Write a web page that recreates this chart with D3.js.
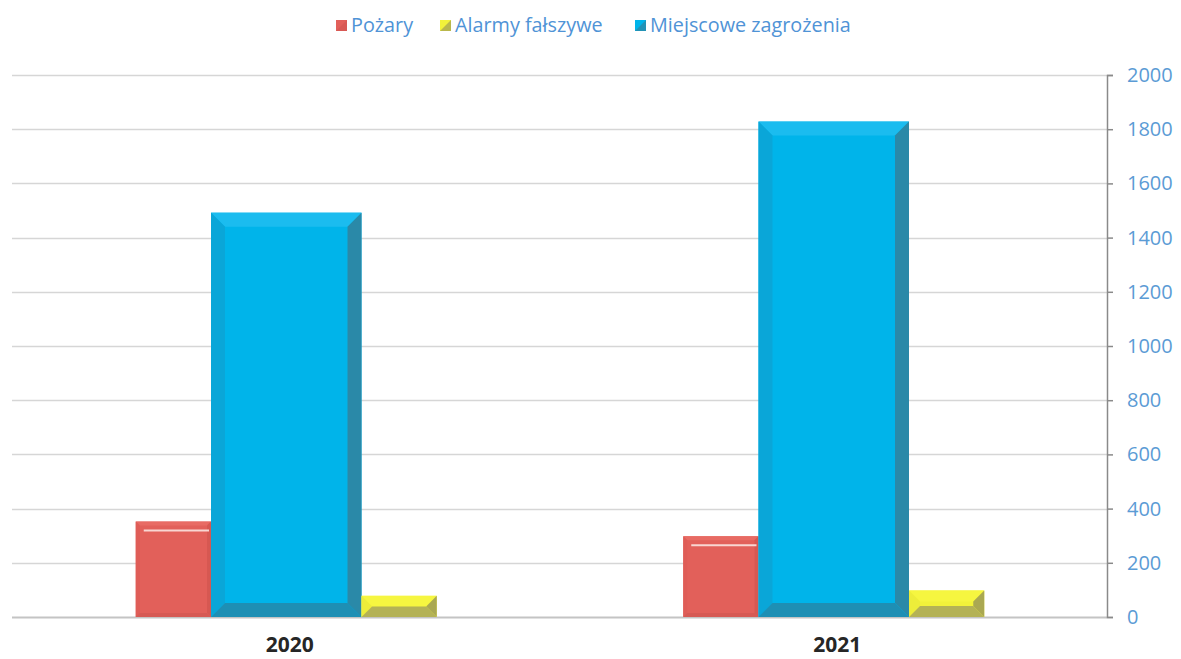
<!DOCTYPE html>
<html>
<head>
<meta charset="utf-8">
<script src="https://cdn.jsdelivr.net/npm/d3@7/dist/d3.min.js"></script>
<style>
  body { margin: 0; background: #fff; }
  svg { display: block; }
</style>
</head>
<body>
<div id="app"></div>
<script>
// dane
const years = ["2020", "2021"];
const seriesNames = ["Pożary", "Miejscowe zagrożenia", "Alarmy fałszywe"];
const pozary = [352, 298];
const miejscowe = [1492, 1828];
const alarmy = [78, 98];
const yTicks = [0, 200, 400, 600, 800, 1000, 1200, 1400, 1600, 1800, 2000];

const width = 1181, height = 659;
const plotLeft = 12, plotRight = 1107, plotTop = 75, plotBottom = 617;

const svg = d3.select("#app").append("svg")
    .attr("width", width)
    .attr("height", height);

const x0 = d3.scaleBand().domain(years).range([plotLeft, plotRight]);
const y = d3.scaleLinear().domain([0, 2000]).range([plotBottom, plotTop]);

// szerokości słupków w grupie: czerwony 1, niebieski 2, żółty 1
const unit = d3.scaleLinear().domain([0, 4]).range([-150, 151]);
const slots = [[0, 1], [1, 3], [3, 4]];

// siatka
svg.append("g")
    .selectAll("line")
    .data(yTicks)
    .join("line")
    .attr("x1", plotLeft)
    .attr("x2", plotRight)
    .attr("y1", d => Math.round(y(d)) + 0.5)
    .attr("y2", d => Math.round(y(d)) + 0.5)
    .attr("stroke", d => d === 0 ? "#c4c4c4" : "#d6d6d6")
    .attr("stroke-width", d => d === 0 ? 2 : 1.5);

// oś po prawej
const axis = svg.append("g")
    .attr("transform", `translate(${plotRight},0)`)
    .call(d3.axisRight(y).tickValues(yTicks).tickSize(6).tickPadding(14).tickFormat(d3.format("d")));
axis.select(".domain").attr("stroke", "#8a8a8a").attr("stroke-width", 1.5);
axis.selectAll(".tick line").attr("stroke", "#8a8a8a").attr("stroke-width", 1.5);
axis.selectAll(".tick text")
    .attr("fill", "#5b9bd5")
    .style("font-family", "'Open Sans', sans-serif")
    .style("font-size", "20px");

// słupek z fazowaniem
function bevelBar(g, x, yTop, w, h, b, c) {
    b = Math.min(b, h / 2, w / 2);
    const x2 = x + w, y2 = yTop + h;
    g.append("rect").attr("x", x).attr("y", yTop).attr("width", w).attr("height", h).attr("fill", c.face);
    g.append("polygon").attr("points", [[x, yTop], [x2, yTop], [x2 - b, yTop + b], [x + b, yTop + b]].join(" ")).attr("fill", c.top);
    g.append("polygon").attr("points", [[x, yTop], [x + b, yTop + b], [x + b, y2 - b], [x, y2]].join(" ")).attr("fill", c.left);
    g.append("polygon").attr("points", [[x2, yTop], [x2, y2], [x2 - b, y2 - b], [x2 - b, yTop + b]].join(" ")).attr("fill", c.right);
    g.append("polygon").attr("points", [[x, y2], [x + b, y2 - b], [x2 - b, y2 - b], [x2, y2]].join(" ")).attr("fill", c.bottom);
}

const styles = [
    { face: "#e2605a", top: "#e86b64", left: "#df5d57", right: "#d65852", bottom: "#d65a54", bevel: 4, hi: true },
    { face: "#00b4ea", top: "#1bbcef", left: "#0aa6d8", right: "#2a89a8", bottom: "#1e8fb4", bevel: 14 },
    { face: "#f2f23a", top: "#f6f640", left: "#eded3a", right: "#aaa852", bottom: "#b4b256", bevel: 11 }
];
const seriesData = [pozary, miejscowe, alarmy];

years.forEach((yr, i) => {
    const cx = x0(yr) + x0.bandwidth() / 2;
    seriesData.forEach((vals, s) => {
        const g = svg.append("g");
        const xa = cx + unit(slots[s][0]);
        const xb = cx + unit(slots[s][1]);
        const yt = y(vals[i]);
        bevelBar(g, xa, yt, xb - xa, y(0) - yt, styles[s].bevel, styles[s]);
        if (styles[s].hi) {
            g.append("line")
                .attr("x1", xa + 8).attr("x2", xb - 2)
                .attr("y1", yt + 9).attr("y2", yt + 9)
                .attr("stroke", "#f8d6d2").attr("stroke-width", 2);
        }
    });
});

// etykiety lat
svg.append("g")
    .selectAll("text")
    .data(years)
    .join("text")
    .attr("x", d => x0(d) + x0.bandwidth() / 2 + 4)
    .attr("y", 652)
    .attr("text-anchor", "middle")
    .attr("fill", "#262626")
    .style("font-family", "'Open Sans', sans-serif")
    .style("font-weight", "bold")
    .style("font-size", "21px")
    .text(d => d);

// legenda
const legend = [
    { name: "Pożary", x: 336, c: styles[0] },
    { name: "Alarmy fałszywe", x: 440, c: styles[2] },
    { name: "Miejscowe zagrożenia", x: 635, c: styles[1] }
];
const lg = svg.append("g").selectAll("g").data(legend).join("g")
    .attr("transform", d => `translate(${d.x},19)`);
lg.append("rect").attr("width", 11).attr("height", 11).attr("y", 1).attr("fill", d => d.c.face);
lg.append("polygon").attr("points", "11,1 11,12 0,12").attr("fill", d => d.c.right).attr("opacity", 0.8);
lg.append("text")
    .attr("x", 15)
    .attr("y", 13)
    .attr("fill", "#4f93d6")
    .style("font-family", "'Open Sans', sans-serif")
    .style("font-size", "19.8px")
    .text(d => d.name);
</script>
</body>
</html>
